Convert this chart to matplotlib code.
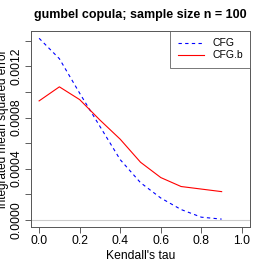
import matplotlib
matplotlib.use('Agg')
import matplotlib.pyplot as plt

plt.rcParams['font.family'] = ['Liberation Sans', 'DejaVu Sans']

tau = [0.0, 0.1, 0.2, 0.3, 0.4, 0.5, 0.6, 0.7, 0.8, 0.9]
cfg = [0.00142, 0.00126, 0.00099, 0.00073, 0.00047, 0.00029, 0.00017, 0.00008, 0.00002, 0.000005]
cfg_b = [0.00093, 0.00104, 0.00094, 0.00078, 0.00063, 0.00045, 0.00033, 0.00026, 0.00024, 0.00022]

yticks = [0.0, 0.0002, 0.0004, 0.0006, 0.0008, 0.0010, 0.0012, 0.0014]
ytick_labels = ['0.0000', '', '0.0004', '', '0.0008', '', '0.0012', '']
xticks = [0.0, 0.2, 0.4, 0.6, 0.8, 1.0]

fig = plt.figure(figsize=(2.66, 2.66), dpi=100)
ax = fig.add_axes([0.1165, 0.1466, 0.8235, 0.7369])

ax.axhline(0, color='#cccccc', lw=0.8, zorder=1)
ax.plot(tau, cfg, color='blue', ls=(0, (3, 3)), lw=0.8, label='CFG')
ax.plot(tau, cfg_b, color='red', lw=0.8, label='CFG.b')

ax.set_xlim(-0.04, 1.04)
ax.set_ylim(-0.0000568, 0.001477)
ax.set_xticks(xticks)
ax.set_xticklabels([f'{t:.1f}' for t in xticks])
ax.set_yticks(yticks)
ax.set_yticklabels(ytick_labels, rotation=90, va='center')
ax.tick_params(labelsize=8.7, length=4, width=0.6, color='#444444', pad=2)
for s in ax.spines.values():
    s.set_color('#555555')
    s.set_linewidth(0.7)

ax.set_xlabel("Kendall's tau", fontsize=8.7, labelpad=2)
ax.set_ylabel('integrated mean squared error', fontsize=8.5, labelpad=1)
ax.set_title('gumbel copula; sample size n = 100', fontsize=9, fontweight='bold', pad=9)

leg = ax.legend(loc='upper right', fontsize=7.5, frameon=True, fancybox=False,
                borderaxespad=0, handlelength=2.5, borderpad=0.7, labelspacing=0.2)
leg.get_frame().set_edgecolor('#555555')
leg.get_frame().set_linewidth(0.7)

fig.savefig('out.png', dpi=100)
